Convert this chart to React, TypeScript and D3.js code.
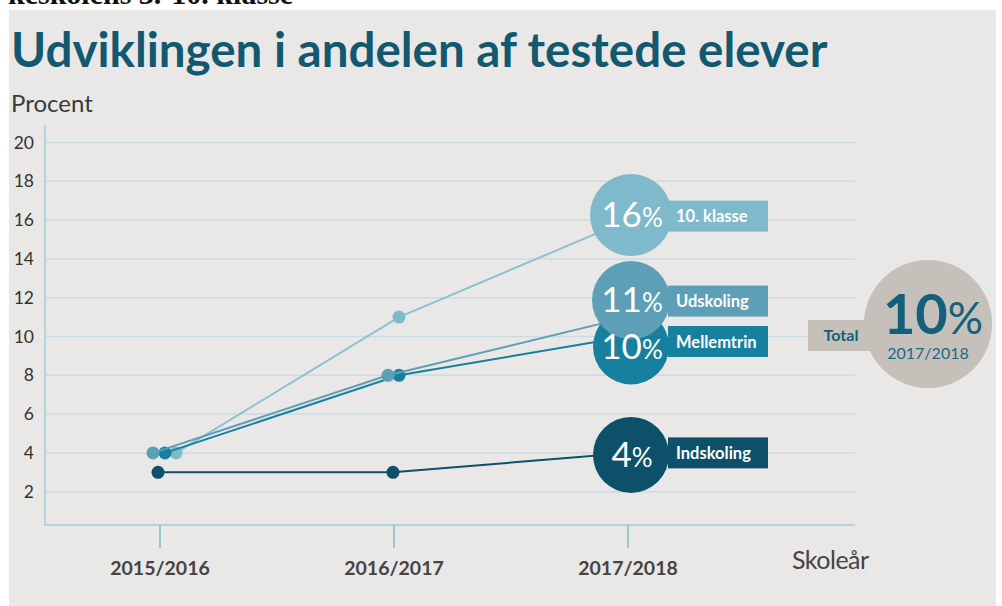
import React from "react";
import * as d3 from "d3";

const years = ["2015/2016", "2016/2017", "2017/2018"];
const yTicks = [2, 4, 6, 8, 10, 12, 14, 16, 18, 20];
const seriesNames = ["10. klasse", "Udskoling", "Mellemtrin", "Indskoling"];
const klasse10 = [4, 11, 16];
const udskoling = [4, 8, 11];
const mellemtrin = [4, 8, 10];
const indskoling = [3, 3, 4];
const totalValue = 10;
const totalYear = "2017/2018";

const W = 1002;
const H = 606;
const FONT = "Lato, 'Open Sans', sans-serif";

export default function App() {
  const x = d3.scalePoint<string>().domain(years).range([160, 628]);
  const y = d3.scaleLinear().domain([0, 20]).range([530.5, 142.5]);
  const axisY = y(0) - 5.5;

  const series = [
    { name: seriesNames[0], values: klasse10, color: "#7fb9cc", line: "#8cc1d2", dx: [16, 5], cdy: -5, bdy: 1, r: 41 },
    { name: seriesNames[1], values: udskoling, color: "#5d9fb7", line: "#5d9fb7", dx: [-7, -6], cdy: -17, bdy: 1, r: 39 },
    { name: seriesNames[2], values: mellemtrin, color: "#17809f", line: "#17809f", dx: [5, 5], cdy: 10, bdy: -5, r: 38 },
    { name: seriesNames[3], values: indskoling, color: "#0c5169", line: "#0c5169", dx: [-2, -1], cdy: 2, bdy: -2, r: 38 },
  ];

  const lineGen = d3
    .line<[number, number]>()
    .x((d) => d[0])
    .y((d) => d[1]);

  const pts = (s: typeof series[0]) =>
    s.values.map((v, i) => [x(years[i])! + (i < 2 ? s.dx[i] : 0), y(v)] as [number, number]);

  const drawOrder = [0, 2, 1, 3];
  const lastX = x(years[2])!;

  return (
    <svg width={W} height={H} style={{ position: "absolute", left: 0, top: 0, background: "#fff" }}>
      <text x={8} y={4} fontFamily="'Liberation Serif', 'DejaVu Serif', serif" fontWeight="bold" fontSize={30} fill="#111">
        keskolens 3.-10. klasse
      </text>
      <rect x={9} y={10} width={987} height={596} fill="#e9e8e6" />
      <text x={11} y={67} fontFamily={FONT} fontWeight="bold" fontSize={47.5} fill="#12586f">
        Udviklingen i andelen af testede elever
      </text>
      <text x={11} y={112} fontFamily={FONT} fontSize={24} fill="#3a3a3a">
        Procent
      </text>

      {/* grid */}
      {yTicks.map((t) => (
        <g key={t}>
          <line x1={45} x2={855} y1={y(t)} y2={y(t)} stroke="#c8dce3" strokeWidth={1.5} />
          <text x={34} y={y(t) + 6} textAnchor="end" fontFamily={FONT} fontSize={17.5} fill="#333">
            {t}
          </text>
        </g>
      ))}
      <line x1={45} x2={45} y1={125} y2={axisY} stroke="#b3d2dc" strokeWidth={2} />
      <line x1={44} x2={855} y1={axisY} y2={axisY} stroke="#b3d2dc" strokeWidth={2} />
      {years.map((yr) => (
        <g key={yr}>
          <line x1={x(yr)!} x2={x(yr)!} y1={axisY} y2={axisY + 23} stroke="#9cc5d3" strokeWidth={2} />
          <text x={x(yr)!} y={575} textAnchor="middle" fontFamily={FONT} fontWeight="bold" fontSize={19.5} fill="#444">
            {yr}
          </text>
        </g>
      ))}
      <text x={792} y={569} fontFamily={FONT} fontSize={25} fill="#444" letterSpacing={-0.5}>
        Skoleår
      </text>

      {/* lines and dots */}
      {drawOrder.map((i) => {
        const s = series[i];
        const p = pts(s);
        return (
          <g key={s.name}>
            <path d={lineGen(p) || ""} fill="none" stroke={s.line} strokeWidth={2} />
            {p.slice(0, 2).map((d, j) => (
              <circle key={j} cx={d[0]} cy={d[1]} r={6.5} fill={s.color} />
            ))}
          </g>
        );
      })}

      {/* end bubbles */}
      {drawOrder.map((i) => {
        const s = series[i];
        const cy = y(s.values[2]) + s.cdy;
        const cx = lastX + 3;
        const by = cy + s.bdy;
        return (
          <g key={"b" + s.name}>
            <rect x={lastX + 40} y={by - 15.5} width={100} height={31} fill={s.color} />
            <circle cx={cx} cy={cy} r={s.r} fill={s.color} />
          </g>
        );
      })}
      {drawOrder.map((i) => {
        const s = series[i];
        const cy = y(s.values[2]) + s.cdy;
        const cx = lastX + 4;
        const by = cy + s.bdy;
        return (
          <g key={"t" + s.name}>
            <text x={cx} y={cy + 12} textAnchor="middle" fontFamily={FONT} fill="#fff">
              <tspan fontSize={35}>{s.values[2]}</tspan>
              <tspan fontSize={26}>%</tspan>
            </text>
            <text x={lastX + 48} y={by + 6} fontFamily={FONT} fontWeight="bold" fontSize={16.5} fill="#fff">
              {s.name}
            </text>
          </g>
        );
      })}

      {/* total bubble */}
      <rect x={808} y={320} width={70} height={31} fill="#c5c0ba" />
      <circle cx={928} cy={324} r={64} fill="#c5c0ba" />
      <text x={841} y={341} textAnchor="middle" fontFamily={FONT} fontWeight="bold" fontSize={16} fill="#13607a">
        Total
      </text>
      <text x={933} y={334} textAnchor="middle" fontFamily={FONT} fill="#13607a">
        <tspan fontSize={56} fontWeight="bold">{totalValue}</tspan>
        <tspan fontSize={44}>%</tspan>
      </text>
      <text x={928} y={359} textAnchor="middle" fontFamily={FONT} fontSize={16} fill="#1a6a84">
        {totalYear}
      </text>
    </svg>
  );
}
